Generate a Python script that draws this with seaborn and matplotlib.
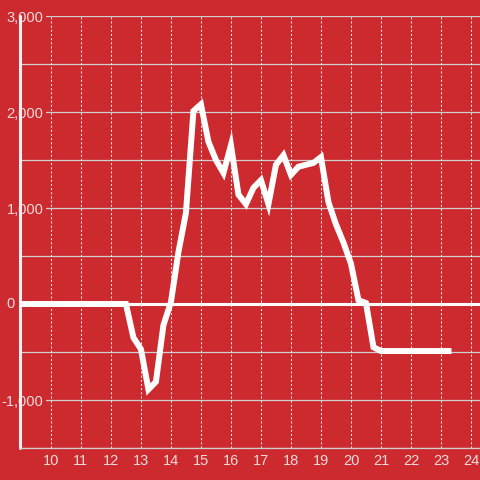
import pandas as pd
import matplotlib
matplotlib.use("Agg")
import matplotlib.pyplot as plt
import seaborn as sns

# 数据
hours = [9.0, 12.5, 12.75, 13.0, 13.25, 13.5, 13.75, 14.0, 14.25, 14.5,
         14.75, 15.0, 15.25, 15.5, 15.75, 16.0, 16.25, 16.5, 16.75, 17.0,
         17.25, 17.5, 17.75, 18.0, 18.25, 18.5, 18.75, 19.0, 19.25, 19.5,
         19.75, 20.0, 20.25, 20.5, 20.75, 21.0, 23.25]
values = [0, 0, -350, -470, -890, -810, -220, 20, 540, 950,
          2010, 2080, 1690, 1500, 1365, 1655, 1140, 1040, 1210, 1290,
          1040, 1450, 1550, 1345, 1430, 1450, 1470, 1530, 1060, 830,
          640, 420, 40, 10, -450, -490, -490]
x_ticks = list(range(10, 25))
y_ticks = [-1000, 0, 1000, 2000, 3000]
y_labels = ["-1,000", "", "1,000", "2,000", "3,000"]

bg = "#cc2a2f"
txt = "#f3dcdc"

sns.set_theme(style="ticks")
plt.rcParams["font.family"] = ["Liberation Sans", "DejaVu Sans"]

df = pd.DataFrame({"hour": hours, "value": values})

fig = plt.figure(figsize=(4.8, 4.8), dpi=100, facecolor=bg)
ax = fig.add_axes([20 / 480, 32 / 480, 460 / 480, 432 / 480])
ax.set_facecolor(bg)

# 网格
ax.xaxis.grid(True, color="#eeeeee", lw=0.75, linestyle=(0, (2, 2)))
for v in range(-1500, 3001, 500):
    ax.axhline(v, color="#cfcfcf", lw=0.9, zorder=0.5)

# 零线与左轴线
ax.axhline(0, color="white", lw=2.2, zorder=1.6)
ax.axvline(8.97, color="#f2f2f2", lw=2.2, zorder=1, clip_on=False)

sns.lineplot(data=df, x="hour", y="value", ax=ax, color="white", lw=4.3,
             zorder=3, solid_capstyle="projecting", solid_joinstyle="miter")

ax.set_xlim(8.97, 24.3)
ax.set_ylim(-1500, 3000)
ax.set_xticks(x_ticks)
ax.set_yticks(y_ticks)
ax.set_yticklabels(y_labels)
ax.yaxis.grid(False)

ax.tick_params(axis="x", length=0, pad=4, labelsize=10.5, labelcolor=txt)
ax.tick_params(axis="y", length=0, pad=-17, labelsize=10.5, labelcolor=txt)
for lab in ax.get_yticklabels():
    lab.set_bbox(dict(facecolor=bg, edgecolor="none", pad=1.5))
ax.text(-0.011, 0, "0", transform=ax.get_yaxis_transform(), ha="right",
        va="center", fontsize=10.5, color=txt)

ax.set_xlabel("")
ax.set_ylabel("")
for s in ["top", "right", "left"]:
    ax.spines[s].set_visible(False)
ax.spines["bottom"].set_color("#cfcfcf")
ax.spines["bottom"].set_linewidth(0.9)

fig.savefig("out.png", dpi=100, facecolor=bg)
